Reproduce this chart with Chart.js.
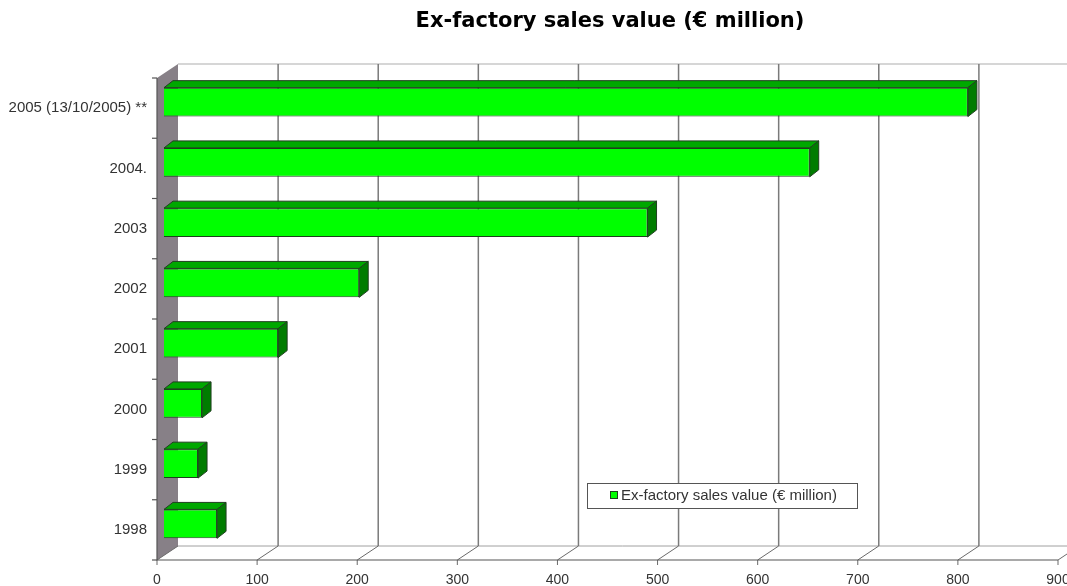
<!DOCTYPE html>
<html lang="en">
<head>
    <meta charset="UTF-8">
    <title>Ex-factory sales value</title>
    <script src="https://cdn.jsdelivr.net/npm/chart.js@4/dist/chart.umd.min.js"></script>
    <style>
        body { margin: 0; background: #fff; font-family: "Liberation Sans", Arial, sans-serif; }
        #chart { display: block; }
    </style>
</head>
<body>
<canvas id="chart" width="1067" height="586"></canvas>

<script>
    const chartTitle = 'Ex-factory sales value (€ million)';
    const seriesLabel = 'Ex-factory sales value (€ million)';
    const categories = ['2005 (13/10/2005) **', '2004.', '2003', '2002', '2001', '2000', '1999', '1998'];
    const salesValues = [803, 645, 483, 195, 114, 38, 34, 53];
    const xMin = 0, xMax = 900, xStep = 100;

    // depth of the fake 3d box and of the bars
    const wallDx = 21, wallDy = -14;
    const barShiftX = 7, barShiftY = -6;
    const barDx = 9, barDy = -7;

    const threeD = {
        id: 'threeD',
        beforeDatasetsDraw(chart) {
            const ctx = chart.ctx;
            const a = chart.chartArea;
            const xs = chart.scales.x;
            ctx.save();
            // left wall
            ctx.fillStyle = '#878087';
            ctx.beginPath();
            ctx.moveTo(a.left, a.top);
            ctx.lineTo(a.left + wallDx, a.top + wallDy);
            ctx.lineTo(a.left + wallDx, a.bottom + wallDy);
            ctx.lineTo(a.left, a.bottom);
            ctx.closePath();
            ctx.fill();
            // back wall top and floor back edge
            ctx.strokeStyle = '#c8c8c8';
            ctx.lineWidth = 1.5;
            ctx.beginPath();
            ctx.moveTo(a.left + wallDx, a.top + wallDy);
            ctx.lineTo(chart.width, a.top + wallDy);
            ctx.stroke();
            ctx.strokeStyle = '#a0a0a0';
            ctx.lineWidth = 1;
            ctx.beginPath();
            ctx.moveTo(a.left + wallDx, a.bottom + wallDy);
            ctx.lineTo(chart.width, a.bottom + wallDy);
            ctx.stroke();
            // grid on back wall + floor slants
            for (let v = xMin; v <= xMax; v += xStep) {
                const px = xs.getPixelForValue(v);
                ctx.strokeStyle = '#7a7a7a';
                ctx.lineWidth = 1.5;
                if (v > xMin) {
                    ctx.beginPath();
                    ctx.moveTo(px + wallDx, a.top + wallDy);
                    ctx.lineTo(px + wallDx, a.bottom + wallDy);
                    ctx.stroke();
                }
                ctx.lineWidth = 1;
                ctx.strokeStyle = '#6a6a6a';
                ctx.beginPath();
                ctx.moveTo(px, a.bottom);
                ctx.lineTo(px + wallDx, a.bottom + wallDy);
                ctx.stroke();
                // tick mark
                ctx.beginPath();
                ctx.moveTo(px, a.bottom);
                ctx.lineTo(px, a.bottom + 5);
                ctx.stroke();
            }
            // front axes
            ctx.strokeStyle = '#555';
            ctx.lineWidth = 1.2;
            ctx.beginPath();
            ctx.moveTo(a.left, a.top);
            ctx.lineTo(a.left, a.bottom);
            ctx.lineTo(xs.getPixelForValue(xMax), a.bottom);
            ctx.stroke();
            const band = (a.bottom - a.top) / categories.length;
            for (let i = 0; i <= categories.length; i++) {
                const py = a.top + i * band;
                ctx.beginPath();
                ctx.moveTo(a.left - 5, py);
                ctx.lineTo(a.left, py);
                ctx.stroke();
            }
            ctx.restore();
        },
        beforeDatasetDraw(chart) {
            chart.ctx.save();
            chart.ctx.translate(barShiftX, barShiftY);
        },
        afterDatasetDraw(chart, args) {
            const ctx = chart.ctx;
            args.meta.data.forEach(bar => {
                const p = bar.getProps(['x', 'y', 'base', 'height'], true);
                const top = p.y - p.height / 2, bottom = p.y + p.height / 2;
                ctx.lineWidth = 1;
                ctx.strokeStyle = '#1f3f1f';
                ctx.fillStyle = '#00a800';
                ctx.beginPath();
                ctx.moveTo(p.base, top);
                ctx.lineTo(p.x, top);
                ctx.lineTo(p.x + barDx, top + barDy);
                ctx.lineTo(p.base + barDx, top + barDy);
                ctx.closePath();
                ctx.fill();
                ctx.stroke();
                ctx.fillStyle = '#007c00';
                ctx.beginPath();
                ctx.moveTo(p.x, top);
                ctx.lineTo(p.x + barDx, top + barDy);
                ctx.lineTo(p.x + barDx, bottom + barDy);
                ctx.lineTo(p.x, bottom);
                ctx.closePath();
                ctx.fill();
                ctx.stroke();
            });
            ctx.restore();
        },
        afterDraw(chart) {
            const ctx = chart.ctx;
            ctx.save();
            // title
            ctx.fillStyle = '#000';
            ctx.font = 'bold 21px "DejaVu Sans", sans-serif';
            ctx.textAlign = 'center';
            ctx.textBaseline = 'middle';
            ctx.fillText(chartTitle, 610, 22);
            // legend box
            const lx = 587, ly = 483, lw = 270, lh = 25;
            ctx.fillStyle = '#fff';
            ctx.fillRect(lx, ly, lw, lh);
            ctx.strokeStyle = '#555';
            ctx.lineWidth = 1;
            ctx.strokeRect(lx + 0.5, ly + 0.5, lw, lh);
            ctx.fillStyle = '#00ff00';
            ctx.fillRect(610, 491, 7, 7);
            ctx.strokeStyle = '#1f3f1f';
            ctx.strokeRect(610.5, 491.5, 7, 7);
            ctx.fillStyle = '#333';
            ctx.font = '15px "Liberation Sans", Arial, sans-serif';
            ctx.textAlign = 'left';
            ctx.fillText(seriesLabel, 621, 496);
            ctx.restore();
        }
    };

    new Chart(document.getElementById('chart'), {
        type: 'bar',
        data: {
            labels: categories,
            datasets: [{
                label: seriesLabel,
                data: salesValues,
                backgroundColor: '#00ff00',
                borderColor: '#1f3f1f',
                borderWidth: 1,
                categoryPercentage: 1,
                barPercentage: 0.48,
                clip: false
            }]
        },
        options: {
            indexAxis: 'y',
            responsive: false,
            animation: false,
            layout: { padding: { top: 78, right: 9, left: 0, bottom: 0 } },
            plugins: {
                legend: { display: false },
                title: { display: false },
                tooltip: { enabled: false }
            },
            scales: {
                x: {
                    type: 'linear',
                    min: xMin,
                    max: xMax,
                    ticks: { stepSize: xStep, color: '#333', font: { size: 14 }, padding: 12 },
                    grid: { display: false, drawTicks: false },
                    border: { display: false },
                    afterFit: s => { s.height = 26; s.paddingLeft = 0; s.paddingRight = 0; }
                },
                y: {
                    ticks: { color: '#333', font: { size: 15 }, padding: 10 },
                    grid: { display: false, drawTicks: false },
                    border: { display: false },
                    afterFit: s => { s.width = 157; s.paddingTop = 0; s.paddingBottom = 0; }
                }
            }
        },
        plugins: [threeD]
    });
</script>
</body>
</html>
